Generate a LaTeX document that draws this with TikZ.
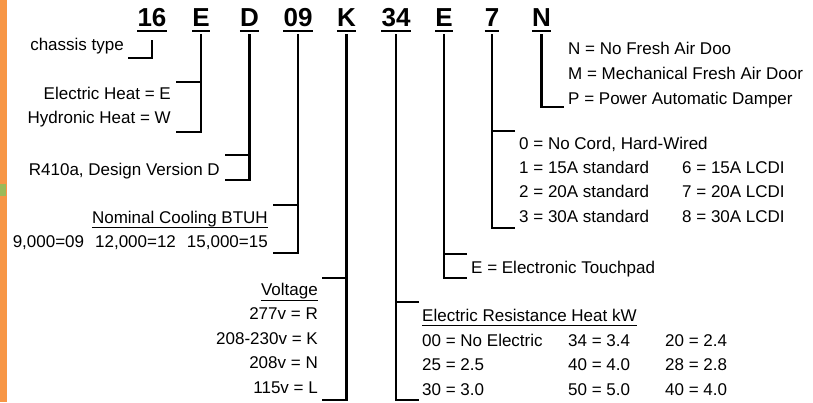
\documentclass[tikz,border=0pt]{standalone}
\usepackage{fontspec}
\setmainfont{Liberation Sans}
\definecolor{barorange}{RGB}{247,150,70}
\definecolor{bargreen}{RGB}{155,187,89}
\tikzset{
  lbl/.style={inner sep=0pt, font=\fontsize{17}{20}\selectfont},
  le/.style={lbl, anchor=base east},
  lw/.style={lbl, anchor=base west},
  hdr/.style={inner sep=0pt, anchor=base, font=\fontsize{26}{30}\selectfont\bfseries},
  brk/.style={line width=2.2pt},
  uline/.style={line width=2.5pt},
  sline/.style={line width=1pt}
}
\begin{document}
\begin{tikzpicture}[x=1pt,y=-1pt]
\useasboundingbox (0,0) rectangle (813,402);
\fill[barorange] (0,0) rectangle (7,402);
\fill[bargreen] (0,184) rectangle (6,196);

% header code letters
\node[hdr] (h16) at (152,26) {16};
\node[hdr] (hE) at (201,26) {E};
\node[hdr] (hD) at (249.5,26) {D};
\node[hdr] (h09) at (298,26) {09};
\node[hdr] (hK) at (346.5,26) {K};
\node[hdr] (h34) at (396,26) {34};
\node[hdr] (hEE) at (444,26) {E};
\node[hdr] (h7) at (492,26) {7};
\node[hdr] (hN) at (541.5,26) {N};
\foreach \n in {h16,hE,hD,h09,hK,h34,hEE,h7,hN}
  \draw[uline] (\n.west |- 0,31) -- (\n.east |- 0,31);

% labels left side
\node[le] (lchassis) at (124,50) {chassis type};
\node[le] (lelec) at (171,99) {Electric Heat = E};
\node[le] (lhydro) at (171,123) {Hydronic Heat = W};
\node[le] (lr410) at (220,175) {R410a, Design Version D};
\node[le] (lnom) at (268,223) {Nominal Cooling BTUH};
\draw[sline] (lnom.west |- 0,227) -- (lnom.east |- 0,227);
\node[le] (lbtuh) at (268,247) {9,000=09\hspace{11pt}12,000=12\hspace{11pt}15,000=15};
\node[le] (lvolt) at (318,295) {Voltage};
\draw[sline] (lvolt.west |- 0,300) -- (lvolt.east |- 0,300);
\node[le] (lv1) at (318,319.5) {277v = R};
\node[le] (lv2) at (318,344) {208-230v = K};
\node[le] (lv3) at (318,368.5) {208v = N};
\node[le] (lv4) at (318,393) {115v = L};

% labels right side
\node[lw] (ln1) at (568,54) {N = No Fresh Air Doo};
\node[lw] (ln2) at (568,79) {M = Mechanical Fresh Air Door};
\node[lw] (ln3) at (568,104) {P = Power Automatic Damper};
\node[lw] (lc0) at (519,149) {0 = No Cord, Hard-Wired};
\node[lw] (lc1) at (519,173) {1 = 15A standard};
\node[lw] (lc2) at (519,197.5) {2 = 20A standard};
\node[lw] (lc3) at (519,222) {3 = 30A standard};
\node[lw] (lc6) at (682,173) {6 = 15A LCDI};
\node[lw] (lc7) at (682,197.5) {7 = 20A LCDI};
\node[lw] (lc8) at (682,222) {8 = 30A LCDI};
\node[lw] (ltouch) at (471,273) {E = Electronic Touchpad};
\node[lw] (lheat) at (422,321) {Electric Resistance Heat kW};
\draw[sline] (lheat.west |- 0,325) -- (lheat.east |- 0,325);
\node[lw] (lk1) at (422,346) {00 = No Electric};
\node[lw] (lk2) at (422,370.5) {25 = 2.5};
\node[lw] (lk3) at (422,395) {30 = 3.0};
\node[lw] (lk4) at (568,346) {34 = 3.4};
\node[lw] (lk5) at (568,370.5) {40 = 4.0};
\node[lw] (lk6) at (568,395) {50 = 5.0};
\node[lw] (lk7) at (665,346) {20 = 2.4};
\node[lw] (lk8) at (665,370.5) {28 = 2.8};
\node[lw] (lk9) at (665,395) {40 = 4.0};

% brackets
\draw[brk] (h16 |- 0,40) -- (h16 |- 0,58) -- (128,58);
\draw[brk] (hE |- 0,34) -- (hE |- 0,132) -- (176,132);
\draw[brk] (176,82) -- (hE |- 0,82);
\draw[brk] (hD |- 0,34) -- (hD |- 0,180) -- (225,180);
\draw[brk] (225,155) -- (hD |- 0,155);
\draw[brk] (h09 |- 0,34) -- (h09 |- 0,253) -- (273,253);
\draw[brk] (273,205) -- (h09 |- 0,205);
\draw[brk] (hK |- 0,34) -- (hK |- 0,400) -- (322,400);
\draw[brk] (322,278) -- (hK |- 0,278);
\draw[brk] (h34 |- 0,34) -- (h34 |- 0,400) -- (419,400);
\draw[brk] (419,302) -- (h34 |- 0,302);
\draw[brk] (hEE |- 0,34) -- (hEE |- 0,278) -- (467,278);
\draw[brk] (467,254) -- (hEE |- 0,254);
\draw[brk] (h7 |- 0,34) -- (h7 |- 0,228) -- (515,228);
\draw[brk] (515,131) -- (h7 |- 0,131);
\draw[brk] (hN |- 0,34) -- (hN |- 0,107) -- (564,107);
\end{tikzpicture}
\end{document}
